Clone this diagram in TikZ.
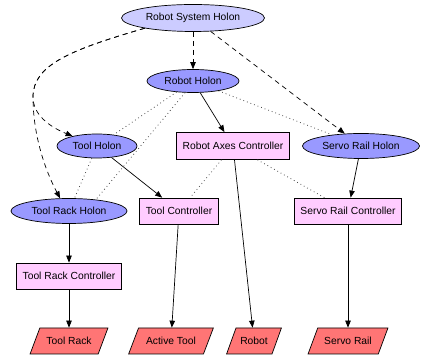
\documentclass[tikz,border=0pt]{standalone}
\usepackage{fontspec}
\setmainfont{Liberation Sans}
\usepackage{xcolor}
\usetikzlibrary{positioning}
\usetikzlibrary{arrows.meta}
\usetikzlibrary{shapes.geometric,calc}

\definecolor{systemblue}{HTML}{CCCCFF}
\definecolor{holonblue}{HTML}{9999FF}
\definecolor{ctrlpink}{HTML}{FFCCFF}
\definecolor{devicered}{HTML}{FF7575}

\begin{document}
\begin{tikzpicture}[x=1pt, y=1pt, line width=0.7pt,
	every node/.style={font=\fontsize{10.3}{12}\selectfont},
	holon/.style={ellipse, draw=black, fill=holonblue, inner sep=0pt},
	ctrl/.style={rectangle, draw=black, fill=ctrlpink, minimum height=26pt, inner xsep=6pt},
	device/.style={trapezium, trapezium left angle=60, trapezium right angle=120, trapezium stretches=true, draw=black, fill=devicered, minimum height=26pt, inner xsep=2pt},
	link/.style={-{Triangle[length=7pt,width=5.5pt]}},
	holonlink/.style={link, dash pattern=on 5pt off 4pt},
	peer/.style={black!70, line width=0.8pt, dash pattern=on 0.8pt off 3pt}]
			\useasboundingbox (0,0) rectangle (423,355);
			% holons
			\node[holon, fill=systemblue, minimum width=143pt, minimum height=27pt] (rsh) at (193,337) {Robot System Holon};
			\node[holon, minimum width=92pt, minimum height=23pt] (rh) at (193,274) {Robot Holon};
			\node[holon, minimum width=80pt, minimum height=24pt] (th) at (97,209) {Tool Holon};
			\node[holon, minimum width=117pt, minimum height=25pt] (srh) at (361,209) {Servo Rail Holon};
			\node[holon, minimum width=116pt, minimum height=25pt] (trh) at (69,144) {Tool Rack Holon};
			% controllers
			\node[ctrl, minimum height=27pt] (rac) at (233,209) {Robot Axes Controller};
			\node[ctrl] (tc) at (179,144) {Tool Controller};
			\node[ctrl] (src) at (348,144) {Servo Rail Controller};
			\node[ctrl] (trc) at (69,79) {Tool Rack Controller};
			% devices
			\node[device, minimum width=78pt] (tr) at (69,14) {Tool Rack};
			\node[device, minimum width=85pt] (at) at (171,14) {Active Tool};
			\node[device, minimum width=55pt] (rob) at (254,14) {Robot};
			\node[device, minimum width=80pt] (sr) at (348,14) {Servo Rail};
			% holon hierarchy
			\coordinate (fork) at (33,258);
			\draw[holonlink] (rsh) -- (rh);
			\draw[holonlink] (rsh) -- (srh);
			\draw[holonlink] (rsh.192) .. controls (70,305) and (33,290) .. (fork) .. controls (33,240) and (50,228) .. (th.158);
			\draw[holonlink] (rsh.192) .. controls (70,305) and (33,290) .. (fork) .. controls (33,220) and (45,185) .. (trh.125);
			% peer relations
			\draw[peer] (rh) -- (th);
			\draw[peer] (rh.236) -- (trh.23);
			\draw[peer] (rh) -- (srh);
			\draw[peer] (th) -- (trh);
			\draw[peer] (rac) -- (tc);
			\draw[peer] (rac) -- (src);
			% control links
			\draw[link] (rh) -- (rac);
			\draw[link] (th) -- (tc);
			\draw[link] (srh) -- (src);
			\draw[link] (trh) -- (trc);
			\draw[link] (trc) -- (tr);
			\draw[link] (tc) -- (at);
			\draw[link] (rac) -- (rob);
			\draw[link] (src) -- (sr);
\end{tikzpicture}
\end{document}
